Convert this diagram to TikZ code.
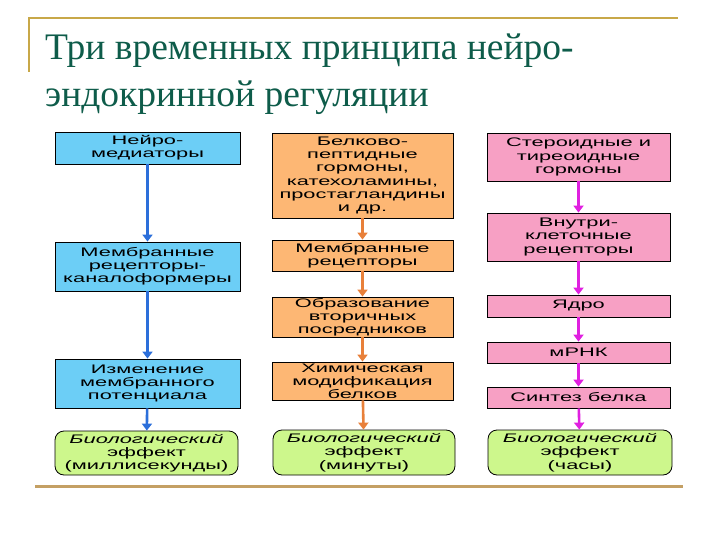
\documentclass[tikz,border=0pt]{standalone}
\usepackage{fontspec}
\usetikzlibrary{arrows.meta}
\newfontfamily\boxfont[FakeStretch=1.76]{Liberation Sans}
\newfontfamily\titlefont{Liberation Serif}
\definecolor{titlegreen}{HTML}{0E5C4A}
\definecolor{goldline}{HTML}{C8A848}
\definecolor{tanline}{HTML}{C4A064}
\definecolor{bluefill}{HTML}{6CCEF6}
\definecolor{orangefill}{HTML}{FDB774}
\definecolor{pinkfill}{HTML}{F7A0C4}
\definecolor{greenfill}{HTML}{CDF78C}
\definecolor{bluearrow}{HTML}{2C6FDA}
\definecolor{orangearrow}{HTML}{E8803A}
\definecolor{pinkarrow}{HTML}{E020E0}
\tikzset{
  boxbase/.style={draw=black, line width=0.8pt, inner sep=0pt, align=center,
    font=\boxfont\fontsize{12.4}{13.2}\selectfont},
  bluebox/.style={boxbase, fill=bluefill},
  orangebox/.style={boxbase, fill=orangefill},
  pinkbox/.style={boxbase, fill=pinkfill},
  effectbox/.style={boxbase, fill=greenfill, rounded corners=9pt},
  flow/.style={line width=2.6pt, -{Triangle[width=10pt,length=7pt]}},
}
\begin{document}
\begin{tikzpicture}[x=1pt,y=-1pt]
\useasboundingbox (0,0) rectangle (720,540);
% decorative lines
\coordinate (tl) at (29,18);
\coordinate (tr) at (678,18);
\coordinate (vl) at (29,72);
\coordinate (bl) at (35,486);
\coordinate (br) at (683,486);
\draw[goldline, line width=2.4pt] (vl) -- (tl) -- (tr);
\draw[tanline, line width=3pt] (bl) -- (br);
% title
\node[anchor=base west, inner sep=0pt, text=titlegreen, font=\titlefont\fontsize{37.5}{37.5}\selectfont] (t1) at (45,60) {Три временных принципа нейро-};
\node[anchor=base west, inner sep=0pt, text=titlegreen, font=\titlefont\fontsize{37.5}{37.5}\selectfont] (t2) at (45,107) {эндокринной регуляции};
% left column
\node[bluebox, minimum width=185pt, minimum height=32pt] (L1) at (147.5,148) {Нейро-\\медиаторы};
\node[bluebox, minimum width=185pt, minimum height=49pt] (L2) at (147.5,266.5) {Мембранные\\рецепторы-\\каналоформеры};
\node[bluebox, minimum width=185pt, minimum height=49pt] (L3) at (147.5,383.5) {Изменение\\мембранного\\потенциала};
\node[effectbox, minimum width=183pt, minimum height=44pt] (LG) at (146.5,453) {\itshape Биологический\\эффект\\(миллисекунды)};
% middle column
\node[orangebox, minimum width=181pt, minimum height=85pt] (M1) at (362.5,175.5) {Белково-\\пептидные\\гормоны,\\катехоламины,\\простагландины\\и др.};
\node[orangebox, minimum width=181pt, minimum height=31pt] (M2) at (362.5,255.5) {Мембранные\\рецепторы};
\node[orangebox, minimum width=181pt, minimum height=40pt] (M3) at (362.5,317) {Образование\\вторичных\\посредников};
\node[orangebox, minimum width=181pt, minimum height=38pt] (M4) at (362.5,381) {Химическая\\модификация\\белков};
\node[effectbox, minimum width=182pt, minimum height=45pt] (MG) at (364,452.5) {\itshape Биологический\\эффект\\(минуты)};
% right column
\node[pinkbox, minimum width=183pt, minimum height=48pt] (R1) at (578.5,157) {Стероидные и\\тиреоидные\\гормоны};
\node[pinkbox, minimum width=183pt, minimum height=48pt] (R2) at (578.5,237) {Внутри-\\клеточные\\рецепторы};
\node[pinkbox, minimum width=183pt, minimum height=22pt] (R3) at (578.5,306) {Ядро};
\node[pinkbox, minimum width=183pt, minimum height=21pt] (R4) at (578.5,352.5) {мРНК};
\node[pinkbox, minimum width=183pt, minimum height=21pt] (R5) at (578.5,397.5) {Синтез белка};
\node[effectbox, minimum width=184pt, minimum height=45pt] (RG) at (580,452.5) {\itshape Биологический\\эффект\\(часы)};
% arrows
\draw[flow, bluearrow] (L1) -- (L2);
\draw[flow, bluearrow] (L2) -- (L3);
\draw[flow, bluearrow] (L3) -- (LG);
\draw[flow, orangearrow] (M1) -- (M2);
\draw[flow, orangearrow] (M2) -- (M3);
\draw[flow, orangearrow] (M3) -- (M4);
\draw[flow, orangearrow] (M4) -- (MG);
\draw[flow, pinkarrow] (R1) -- (R2);
\draw[flow, pinkarrow] (R2) -- (R3);
\draw[flow, pinkarrow] (R3) -- (R4);
\draw[flow, pinkarrow] (R4) -- (R5);
\draw[flow, pinkarrow] (R5) -- (RG);
\end{tikzpicture}
\end{document}
